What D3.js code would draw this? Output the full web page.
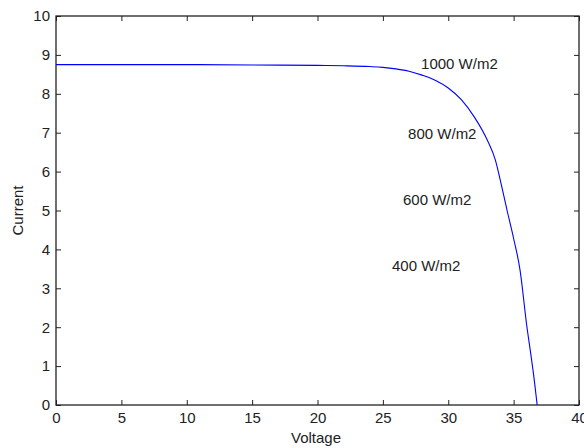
<!DOCTYPE html>
<html><head><meta charset="utf-8">
<script src="https://cdn.jsdelivr.net/npm/d3@7"></script>
<style>body{margin:0;background:#fff}svg{display:block}text{font-family:"Liberation Sans",Arial,sans-serif}</style>
</head><body>
<svg id="c" width="584" height="448"></svg>
<script>
const voltage = [0, 5, 10, 15, 20, 22, 24, 25, 26, 27, 28, 29, 30, 31, 32, 33, 33.6, 34, 34.5, 35, 35.5, 36, 36.3, 36.5, 36.8];
const current = [8.75, 8.75, 8.75, 8.74, 8.73, 8.72, 8.70, 8.68, 8.64, 8.58, 8.48, 8.35, 8.15, 7.85, 7.40, 6.80, 6.30, 5.75, 5.00, 4.28, 3.45, 2.05, 1.34, 0.85, 0];
const xTicks = [0, 5, 10, 15, 20, 25, 30, 35, 40];
const yTicks = [0, 1, 2, 3, 4, 5, 6, 7, 8, 9, 10];
const labels = ["1000 W/m2", "800 W/m2", "600 W/m2", "400 W/m2"];
const labelV = [27.92, 26.93, 26.54, 25.7];
const labelI = [8.63, 6.85, 5.15, 3.45];

const m = {l:56, t:16, r:579, b:405};
const svg = d3.select("#c");
const x = d3.scaleLinear().domain([0,40]).range([m.l, m.r]);
const y = d3.scaleLinear().domain([0,10]).range([m.b, m.t]);

const col = "#222";
const fs = "15px";
function style(g){
  g.select(".domain").remove();
  g.selectAll("line").attr("stroke", col);
  g.selectAll("text").attr("fill", col).style("font-size",fs).style("font-family",'"Liberation Sans",Arial,sans-serif');
}
svg.append("g").attr("transform",`translate(0,${m.b})`).call(d3.axisBottom(x).tickValues(xTicks).tickSizeInner(-5).tickSizeOuter(0).tickPadding(7)).call(style);
svg.append("g").attr("transform",`translate(0,${m.t})`).call(d3.axisTop(x).tickValues(xTicks).tickSizeInner(-5).tickSizeOuter(0).tickFormat("")).call(style);
svg.append("g").attr("transform",`translate(${m.l},0)`).call(d3.axisLeft(y).tickValues(yTicks).tickSizeInner(-5).tickSizeOuter(0).tickPadding(6)).call(style);
svg.append("g").attr("transform",`translate(${m.r},0)`).call(d3.axisRight(y).tickValues(yTicks).tickSizeInner(-5).tickSizeOuter(0).tickFormat("")).call(style);

svg.append("rect").attr("x",m.l).attr("y",m.t).attr("width",m.r-m.l).attr("height",m.b-m.t)
  .attr("fill","none").attr("stroke",col).attr("stroke-width",1.3);

const pts = voltage.map((v,i)=>[v,current[i]]);
svg.append("path").datum(pts)
  .attr("d", d3.line().x(d=>x(d[0])).y(d=>y(d[1])).curve(d3.curveMonotoneX))
  .attr("fill","none").attr("stroke","#0000ff").attr("stroke-width",1.1);

svg.selectAll(".lbl").data(labels).enter().append("text")
  .attr("x",(d,i)=>x(labelV[i])).attr("y",(d,i)=>y(labelI[i]))
  .attr("fill","#222").style("font-size",fs).text(d=>d);

svg.append("text").attr("x",316).attr("y",443).attr("text-anchor","middle")
  .attr("fill",col).style("font-size",fs).text("Voltage");
svg.append("text").attr("transform",`translate(23,${(m.t+m.b)/2}) rotate(-90)`).attr("text-anchor","middle")
  .attr("fill",col).style("font-size",fs).text("Current");
</script>
</body></html>
